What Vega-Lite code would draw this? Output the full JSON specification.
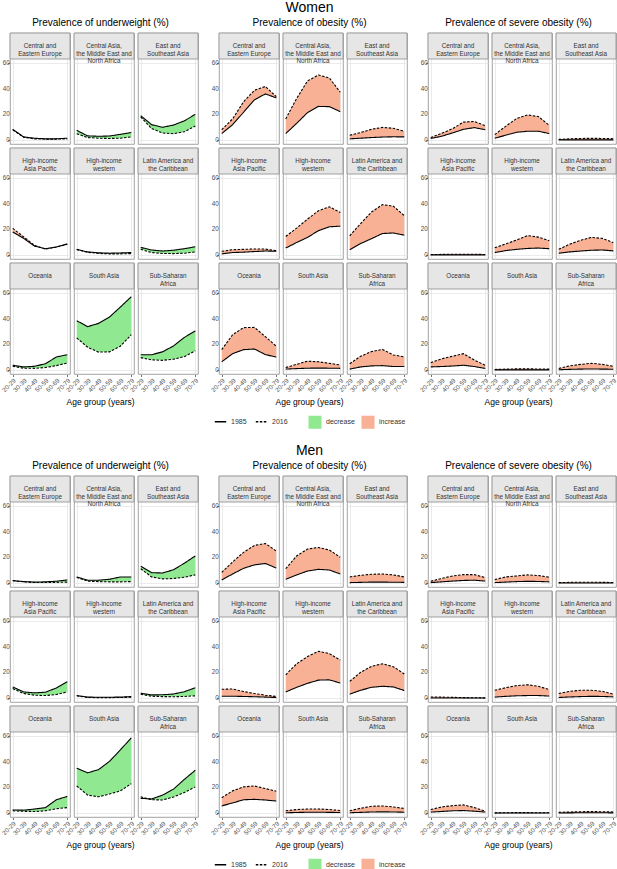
{
  "$schema": "https://vega.github.io/schema/vega-lite/v6.json",
  "padding": {"left": 0, "top": 1, "right": 0, "bottom": 0},
  "datasets": {
    "regions": [
      {"region": "CEE", "label": "Central and\nEastern Europe"},
      {"region": "CAM", "label": "Central Asia,\nthe Middle East and\nNorth Africa"},
      {"region": "ESA", "label": "East and\nSoutheast Asia"},
      {"region": "HAP", "label": "High-income\nAsia Pacific"},
      {"region": "HIW", "label": "High-income\nwestern"},
      {"region": "LAC", "label": "Latin America and\nthe Caribbean"},
      {"region": "OCE", "label": "Oceania"},
      {"region": "SAS", "label": "South Asia"},
      {"region": "SSA", "label": "Sub-Saharan\nAfrica"}
    ],
    "d": [
      {"sex":"W","measure":"uw","region":"CEE","age":20,"1985":8.4,"2016":8.0},
      {"sex":"W","measure":"uw","region":"CEE","age":30,"1985":2.5,"2016":2.3},
      {"sex":"W","measure":"uw","region":"CEE","age":40,"1985":1.5,"2016":1.0},
      {"sex":"W","measure":"uw","region":"CEE","age":50,"1985":1.0,"2016":0.8},
      {"sex":"W","measure":"uw","region":"CEE","age":60,"1985":1.0,"2016":0.8},
      {"sex":"W","measure":"uw","region":"CEE","age":70,"1985":1.5,"2016":1.0},
      {"sex":"W","measure":"uw","region":"CAM","age":20,"1985":7.6,"2016":5.0},
      {"sex":"W","measure":"uw","region":"CAM","age":30,"1985":3.3,"2016":2.0},
      {"sex":"W","measure":"uw","region":"CAM","age":40,"1985":3.0,"2016":1.5},
      {"sex":"W","measure":"uw","region":"CAM","age":50,"1985":3.2,"2016":1.3},
      {"sex":"W","measure":"uw","region":"CAM","age":60,"1985":4.5,"2016":1.5},
      {"sex":"W","measure":"uw","region":"CAM","age":70,"1985":5.9,"2016":2.5},
      {"sex":"W","measure":"uw","region":"ESA","age":20,"1985":19.0,"2016":18.0},
      {"sex":"W","measure":"uw","region":"ESA","age":30,"1985":12.0,"2016":9.0},
      {"sex":"W","measure":"uw","region":"ESA","age":40,"1985":10.0,"2016":5.5},
      {"sex":"W","measure":"uw","region":"ESA","age":50,"1985":11.7,"2016":5.0},
      {"sex":"W","measure":"uw","region":"ESA","age":60,"1985":15.0,"2016":6.5},
      {"sex":"W","measure":"uw","region":"ESA","age":70,"1985":20.0,"2016":11.0},
      {"sex":"W","measure":"uw","region":"HAP","age":20,"1985":18.0,"2016":20.8},
      {"sex":"W","measure":"uw","region":"HAP","age":30,"1985":13.0,"2016":14.2},
      {"sex":"W","measure":"uw","region":"HAP","age":40,"1985":7.0,"2016":7.6},
      {"sex":"W","measure":"uw","region":"HAP","age":50,"1985":5.0,"2016":4.7},
      {"sex":"W","measure":"uw","region":"HAP","age":60,"1985":6.3,"2016":6.3},
      {"sex":"W","measure":"uw","region":"HAP","age":70,"1985":8.7,"2016":8.4},
      {"sex":"W","measure":"uw","region":"HIW","age":20,"1985":4.5,"2016":4.3},
      {"sex":"W","measure":"uw","region":"HIW","age":30,"1985":2.5,"2016":2.2},
      {"sex":"W","measure":"uw","region":"HIW","age":40,"1985":1.8,"2016":1.3},
      {"sex":"W","measure":"uw","region":"HIW","age":50,"1985":1.5,"2016":1.0},
      {"sex":"W","measure":"uw","region":"HIW","age":60,"1985":1.7,"2016":1.0},
      {"sex":"W","measure":"uw","region":"HIW","age":70,"1985":2.0,"2016":1.2},
      {"sex":"W","measure":"uw","region":"LAC","age":20,"1985":6.0,"2016":4.5},
      {"sex":"W","measure":"uw","region":"LAC","age":30,"1985":4.0,"2016":2.0},
      {"sex":"W","measure":"uw","region":"LAC","age":40,"1985":3.2,"2016":1.3},
      {"sex":"W","measure":"uw","region":"LAC","age":50,"1985":3.8,"2016":1.2},
      {"sex":"W","measure":"uw","region":"LAC","age":60,"1985":5.0,"2016":1.5},
      {"sex":"W","measure":"uw","region":"LAC","age":70,"1985":6.5,"2016":2.5},
      {"sex":"W","measure":"uw","region":"OCE","age":20,"1985":3.8,"2016":3.0},
      {"sex":"W","measure":"uw","region":"OCE","age":30,"1985":2.5,"2016":1.5},
      {"sex":"W","measure":"uw","region":"OCE","age":40,"1985":3.0,"2016":1.4},
      {"sex":"W","measure":"uw","region":"OCE","age":50,"1985":5.0,"2016":2.0},
      {"sex":"W","measure":"uw","region":"OCE","age":60,"1985":10.2,"2016":3.5},
      {"sex":"W","measure":"uw","region":"OCE","age":70,"1985":12.0,"2016":5.5},
      {"sex":"W","measure":"uw","region":"SAS","age":20,"1985":38.4,"2016":25.0},
      {"sex":"W","measure":"uw","region":"SAS","age":30,"1985":33.8,"2016":17.8},
      {"sex":"W","measure":"uw","region":"SAS","age":40,"1985":36.3,"2016":14.0},
      {"sex":"W","measure":"uw","region":"SAS","age":50,"1985":41.2,"2016":14.2},
      {"sex":"W","measure":"uw","region":"SAS","age":60,"1985":49.0,"2016":18.6},
      {"sex":"W","measure":"uw","region":"SAS","age":70,"1985":57.0,"2016":27.5},
      {"sex":"W","measure":"uw","region":"SSA","age":20,"1985":12.0,"2016":9.7},
      {"sex":"W","measure":"uw","region":"SSA","age":30,"1985":12.0,"2016":8.0},
      {"sex":"W","measure":"uw","region":"SSA","age":40,"1985":14.2,"2016":7.6},
      {"sex":"W","measure":"uw","region":"SSA","age":50,"1985":18.8,"2016":8.5},
      {"sex":"W","measure":"uw","region":"SSA","age":60,"1985":25.4,"2016":10.5},
      {"sex":"W","measure":"uw","region":"SSA","age":70,"1985":30.5,"2016":15.0},

      {"sex":"W","measure":"ob","region":"CEE","age":20,"1985":5.1,"2016":8.1},
      {"sex":"W","measure":"ob","region":"CEE","age":30,"1985":12.0,"2016":16.5},
      {"sex":"W","measure":"ob","region":"CEE","age":40,"1985":21.6,"2016":29.8},
      {"sex":"W","measure":"ob","region":"CEE","age":50,"1985":31.3,"2016":38.7},
      {"sex":"W","measure":"ob","region":"CEE","age":60,"1985":35.9,"2016":41.7},
      {"sex":"W","measure":"ob","region":"CEE","age":70,"1985":32.8,"2016":33.8},
      {"sex":"W","measure":"ob","region":"CAM","age":20,"1985":5.1,"2016":16.5},
      {"sex":"W","measure":"ob","region":"CAM","age":30,"1985":13.0,"2016":32.3},
      {"sex":"W","measure":"ob","region":"CAM","age":40,"1985":21.4,"2016":46.0},
      {"sex":"W","measure":"ob","region":"CAM","age":50,"1985":26.2,"2016":50.6},
      {"sex":"W","measure":"ob","region":"CAM","age":60,"1985":26.0,"2016":48.3},
      {"sex":"W","measure":"ob","region":"CAM","age":70,"1985":22.1,"2016":37.2},
      {"sex":"W","measure":"ob","region":"ESA","age":20,"1985":1.0,"2016":3.8},
      {"sex":"W","measure":"ob","region":"ESA","age":30,"1985":1.5,"2016":5.9},
      {"sex":"W","measure":"ob","region":"ESA","age":40,"1985":2.0,"2016":8.4},
      {"sex":"W","measure":"ob","region":"ESA","age":50,"1985":2.4,"2016":9.9},
      {"sex":"W","measure":"ob","region":"ESA","age":60,"1985":2.6,"2016":9.2},
      {"sex":"W","measure":"ob","region":"ESA","age":70,"1985":2.5,"2016":6.9},
      {"sex":"W","measure":"ob","region":"HAP","age":20,"1985":1.0,"2016":3.0},
      {"sex":"W","measure":"ob","region":"HAP","age":30,"1985":2.0,"2016":4.2},
      {"sex":"W","measure":"ob","region":"HAP","age":40,"1985":2.3,"2016":4.5},
      {"sex":"W","measure":"ob","region":"HAP","age":50,"1985":2.8,"2016":4.8},
      {"sex":"W","measure":"ob","region":"HAP","age":60,"1985":3.2,"2016":4.7},
      {"sex":"W","measure":"ob","region":"HAP","age":70,"1985":3.0,"2016":3.5},
      {"sex":"W","measure":"ob","region":"HIW","age":20,"1985":5.5,"2016":14.5},
      {"sex":"W","measure":"ob","region":"HIW","age":30,"1985":9.8,"2016":21.0},
      {"sex":"W","measure":"ob","region":"HIW","age":40,"1985":13.8,"2016":28.0},
      {"sex":"W","measure":"ob","region":"HIW","age":50,"1985":19.0,"2016":34.5},
      {"sex":"W","measure":"ob","region":"HIW","age":60,"1985":22.0,"2016":37.5},
      {"sex":"W","measure":"ob","region":"HIW","age":70,"1985":22.5,"2016":33.2},
      {"sex":"W","measure":"ob","region":"LAC","age":20,"1985":4.2,"2016":15.0},
      {"sex":"W","measure":"ob","region":"LAC","age":30,"1985":9.0,"2016":24.5},
      {"sex":"W","measure":"ob","region":"LAC","age":40,"1985":12.8,"2016":33.5},
      {"sex":"W","measure":"ob","region":"LAC","age":50,"1985":16.8,"2016":39.2},
      {"sex":"W","measure":"ob","region":"LAC","age":60,"1985":17.2,"2016":38.0},
      {"sex":"W","measure":"ob","region":"LAC","age":70,"1985":15.5,"2016":30.7},
      {"sex":"W","measure":"ob","region":"OCE","age":20,"1985":6.5,"2016":15.9},
      {"sex":"W","measure":"ob","region":"OCE","age":30,"1985":12.8,"2016":27.5},
      {"sex":"W","measure":"ob","region":"OCE","age":40,"1985":15.9,"2016":33.0},
      {"sex":"W","measure":"ob","region":"OCE","age":50,"1985":16.4,"2016":33.2},
      {"sex":"W","measure":"ob","region":"OCE","age":60,"1985":12.1,"2016":26.0},
      {"sex":"W","measure":"ob","region":"OCE","age":70,"1985":10.1,"2016":18.6},
      {"sex":"W","measure":"ob","region":"SAS","age":20,"1985":0.8,"2016":2.0},
      {"sex":"W","measure":"ob","region":"SAS","age":30,"1985":1.2,"2016":4.5},
      {"sex":"W","measure":"ob","region":"SAS","age":40,"1985":1.5,"2016":7.0},
      {"sex":"W","measure":"ob","region":"SAS","age":50,"1985":1.6,"2016":6.5},
      {"sex":"W","measure":"ob","region":"SAS","age":60,"1985":1.5,"2016":5.3},
      {"sex":"W","measure":"ob","region":"SAS","age":70,"1985":1.4,"2016":4.0},
      {"sex":"W","measure":"ob","region":"SSA","age":20,"1985":0.8,"2016":5.0},
      {"sex":"W","measure":"ob","region":"SSA","age":30,"1985":2.5,"2016":10.8},
      {"sex":"W","measure":"ob","region":"SSA","age":40,"1985":3.3,"2016":14.4},
      {"sex":"W","measure":"ob","region":"SSA","age":50,"1985":3.5,"2016":16.1},
      {"sex":"W","measure":"ob","region":"SSA","age":60,"1985":2.8,"2016":11.8},
      {"sex":"W","measure":"ob","region":"SSA","age":70,"1985":2.8,"2016":10.3},

      {"sex":"W","measure":"so","region":"CEE","age":20,"1985":1.3,"2016":2.0},
      {"sex":"W","measure":"so","region":"CEE","age":30,"1985":3.0,"2016":5.3},
      {"sex":"W","measure":"so","region":"CEE","age":40,"1985":5.6,"2016":8.9},
      {"sex":"W","measure":"so","region":"CEE","age":50,"1985":8.4,"2016":14.0},
      {"sex":"W","measure":"so","region":"CEE","age":60,"1985":9.7,"2016":14.5},
      {"sex":"W","measure":"so","region":"CEE","age":70,"1985":8.1,"2016":11.2},
      {"sex":"W","measure":"so","region":"CAM","age":20,"1985":1.5,"2016":4.3},
      {"sex":"W","measure":"so","region":"CAM","age":30,"1985":3.8,"2016":10.7},
      {"sex":"W","measure":"so","region":"CAM","age":40,"1985":6.1,"2016":16.8},
      {"sex":"W","measure":"so","region":"CAM","age":50,"1985":6.9,"2016":19.6},
      {"sex":"W","measure":"so","region":"CAM","age":60,"1985":6.9,"2016":18.3},
      {"sex":"W","measure":"so","region":"CAM","age":70,"1985":5.1,"2016":11.5},
      {"sex":"W","measure":"so","region":"ESA","age":20,"1985":0.2,"2016":0.6},
      {"sex":"W","measure":"so","region":"ESA","age":30,"1985":0.2,"2016":1.0},
      {"sex":"W","measure":"so","region":"ESA","age":40,"1985":0.2,"2016":1.3},
      {"sex":"W","measure":"so","region":"ESA","age":50,"1985":0.2,"2016":1.4},
      {"sex":"W","measure":"so","region":"ESA","age":60,"1985":0.2,"2016":1.3},
      {"sex":"W","measure":"so","region":"ESA","age":70,"1985":0.2,"2016":1.1},
      {"sex":"W","measure":"so","region":"HAP","age":20,"1985":0.2,"2016":0.4},
      {"sex":"W","measure":"so","region":"HAP","age":30,"1985":0.2,"2016":0.6},
      {"sex":"W","measure":"so","region":"HAP","age":40,"1985":0.2,"2016":0.7},
      {"sex":"W","measure":"so","region":"HAP","age":50,"1985":0.2,"2016":0.7},
      {"sex":"W","measure":"so","region":"HAP","age":60,"1985":0.2,"2016":0.7},
      {"sex":"W","measure":"so","region":"HAP","age":70,"1985":0.2,"2016":0.5},
      {"sex":"W","measure":"so","region":"HIW","age":20,"1985":2.0,"2016":5.7},
      {"sex":"W","measure":"so","region":"HIW","age":30,"1985":3.5,"2016":8.7},
      {"sex":"W","measure":"so","region":"HIW","age":40,"1985":4.5,"2016":11.7},
      {"sex":"W","measure":"so","region":"HIW","age":50,"1985":5.2,"2016":15.2},
      {"sex":"W","measure":"so","region":"HIW","age":60,"1985":5.5,"2016":14.0},
      {"sex":"W","measure":"so","region":"HIW","age":70,"1985":5.0,"2016":11.2},
      {"sex":"W","measure":"so","region":"LAC","age":20,"1985":1.5,"2016":4.5},
      {"sex":"W","measure":"so","region":"LAC","age":30,"1985":2.5,"2016":8.5},
      {"sex":"W","measure":"so","region":"LAC","age":40,"1985":3.2,"2016":11.5},
      {"sex":"W","measure":"so","region":"LAC","age":50,"1985":3.8,"2016":13.8},
      {"sex":"W","measure":"so","region":"LAC","age":60,"1985":4.0,"2016":13.0},
      {"sex":"W","measure":"so","region":"LAC","age":70,"1985":3.3,"2016":9.7},
      {"sex":"W","measure":"so","region":"OCE","age":20,"1985":2.5,"2016":5.8},
      {"sex":"W","measure":"so","region":"OCE","age":30,"1985":2.8,"2016":8.8},
      {"sex":"W","measure":"so","region":"OCE","age":40,"1985":3.2,"2016":10.8},
      {"sex":"W","measure":"so","region":"OCE","age":50,"1985":3.8,"2016":12.8},
      {"sex":"W","measure":"so","region":"OCE","age":60,"1985":2.8,"2016":7.8},
      {"sex":"W","measure":"so","region":"OCE","age":70,"1985":1.3,"2016":3.8},
      {"sex":"W","measure":"so","region":"SAS","age":20,"1985":0.2,"2016":0.5},
      {"sex":"W","measure":"so","region":"SAS","age":30,"1985":0.2,"2016":0.8},
      {"sex":"W","measure":"so","region":"SAS","age":40,"1985":0.2,"2016":1.0},
      {"sex":"W","measure":"so","region":"SAS","age":50,"1985":0.2,"2016":1.0},
      {"sex":"W","measure":"so","region":"SAS","age":60,"1985":0.2,"2016":0.9},
      {"sex":"W","measure":"so","region":"SAS","age":70,"1985":0.2,"2016":0.8},
      {"sex":"W","measure":"so","region":"SSA","age":20,"1985":0.3,"2016":1.3},
      {"sex":"W","measure":"so","region":"SSA","age":30,"1985":0.6,"2016":3.3},
      {"sex":"W","measure":"so","region":"SSA","age":40,"1985":0.8,"2016":4.5},
      {"sex":"W","measure":"so","region":"SSA","age":50,"1985":0.9,"2016":5.3},
      {"sex":"W","measure":"so","region":"SSA","age":60,"1985":0.8,"2016":4.5},
      {"sex":"W","measure":"so","region":"SSA","age":70,"1985":0.7,"2016":3.0},

      {"sex":"M","measure":"uw","region":"CEE","age":20,"1985":2.0,"2016":1.8},
      {"sex":"M","measure":"uw","region":"CEE","age":30,"1985":1.2,"2016":1.0},
      {"sex":"M","measure":"uw","region":"CEE","age":40,"1985":0.8,"2016":0.5},
      {"sex":"M","measure":"uw","region":"CEE","age":50,"1985":1.0,"2016":0.5},
      {"sex":"M","measure":"uw","region":"CEE","age":60,"1985":1.5,"2016":0.6},
      {"sex":"M","measure":"uw","region":"CEE","age":70,"1985":2.5,"2016":0.8},
      {"sex":"M","measure":"uw","region":"CAM","age":20,"1985":4.8,"2016":4.5},
      {"sex":"M","measure":"uw","region":"CAM","age":30,"1985":2.3,"2016":1.5},
      {"sex":"M","measure":"uw","region":"CAM","age":40,"1985":2.3,"2016":1.2},
      {"sex":"M","measure":"uw","region":"CAM","age":50,"1985":3.0,"2016":1.0},
      {"sex":"M","measure":"uw","region":"CAM","age":60,"1985":4.8,"2016":1.0},
      {"sex":"M","measure":"uw","region":"CAM","age":70,"1985":4.8,"2016":1.2},
      {"sex":"M","measure":"uw","region":"ESA","age":20,"1985":13.2,"2016":11.2},
      {"sex":"M","measure":"uw","region":"ESA","age":30,"1985":8.1,"2016":4.8},
      {"sex":"M","measure":"uw","region":"ESA","age":40,"1985":7.9,"2016":3.3},
      {"sex":"M","measure":"uw","region":"ESA","age":50,"1985":10.4,"2016":3.6},
      {"sex":"M","measure":"uw","region":"ESA","age":60,"1985":15.5,"2016":4.6},
      {"sex":"M","measure":"uw","region":"ESA","age":70,"1985":21.1,"2016":6.4},
      {"sex":"M","measure":"uw","region":"HAP","age":20,"1985":8.7,"2016":7.4},
      {"sex":"M","measure":"uw","region":"HAP","age":30,"1985":4.8,"2016":3.6},
      {"sex":"M","measure":"uw","region":"HAP","age":40,"1985":4.1,"2016":2.3},
      {"sex":"M","measure":"uw","region":"HAP","age":50,"1985":4.6,"2016":2.0},
      {"sex":"M","measure":"uw","region":"HAP","age":60,"1985":7.9,"2016":2.8},
      {"sex":"M","measure":"uw","region":"HAP","age":70,"1985":12.7,"2016":4.8},
      {"sex":"M","measure":"uw","region":"HIW","age":20,"1985":2.0,"2016":1.8},
      {"sex":"M","measure":"uw","region":"HIW","age":30,"1985":0.8,"2016":0.5},
      {"sex":"M","measure":"uw","region":"HIW","age":40,"1985":0.7,"2016":0.4},
      {"sex":"M","measure":"uw","region":"HIW","age":50,"1985":0.7,"2016":0.4},
      {"sex":"M","measure":"uw","region":"HIW","age":60,"1985":0.8,"2016":0.5},
      {"sex":"M","measure":"uw","region":"HIW","age":70,"1985":1.2,"2016":0.7},
      {"sex":"M","measure":"uw","region":"LAC","age":20,"1985":3.8,"2016":3.0},
      {"sex":"M","measure":"uw","region":"LAC","age":30,"1985":2.5,"2016":1.5},
      {"sex":"M","measure":"uw","region":"LAC","age":40,"1985":2.6,"2016":1.2},
      {"sex":"M","measure":"uw","region":"LAC","age":50,"1985":3.2,"2016":1.1},
      {"sex":"M","measure":"uw","region":"LAC","age":60,"1985":5.0,"2016":1.3},
      {"sex":"M","measure":"uw","region":"LAC","age":70,"1985":8.1,"2016":1.8},
      {"sex":"M","measure":"uw","region":"OCE","age":20,"1985":2.5,"2016":1.8},
      {"sex":"M","measure":"uw","region":"OCE","age":30,"1985":2.3,"2016":1.4},
      {"sex":"M","measure":"uw","region":"OCE","age":40,"1985":3.2,"2016":1.3},
      {"sex":"M","measure":"uw","region":"OCE","age":50,"1985":4.3,"2016":1.8},
      {"sex":"M","measure":"uw","region":"OCE","age":60,"1985":10.4,"2016":3.4},
      {"sex":"M","measure":"uw","region":"OCE","age":70,"1985":13.0,"2016":4.3},
      {"sex":"M","measure":"uw","region":"SAS","age":20,"1985":34.9,"2016":21.1},
      {"sex":"M","measure":"uw","region":"SAS","age":30,"1985":31.3,"2016":14.0},
      {"sex":"M","measure":"uw","region":"SAS","age":40,"1985":33.8,"2016":12.7},
      {"sex":"M","measure":"uw","region":"SAS","age":50,"1985":40.2,"2016":14.8},
      {"sex":"M","measure":"uw","region":"SAS","age":60,"1985":49.1,"2016":17.3},
      {"sex":"M","measure":"uw","region":"SAS","age":70,"1985":58.5,"2016":22.9},
      {"sex":"M","measure":"uw","region":"SSA","age":20,"1985":11.5,"2016":12.7},
      {"sex":"M","measure":"uw","region":"SSA","age":30,"1985":11.0,"2016":10.4},
      {"sex":"M","measure":"uw","region":"SSA","age":40,"1985":14.0,"2016":10.2},
      {"sex":"M","measure":"uw","region":"SSA","age":50,"1985":18.6,"2016":12.5},
      {"sex":"M","measure":"uw","region":"SSA","age":60,"1985":26.2,"2016":16.0},
      {"sex":"M","measure":"uw","region":"SSA","age":70,"1985":33.3,"2016":20.4},

      {"sex":"M","measure":"ob","region":"CEE","age":20,"1985":2.5,"2016":8.4},
      {"sex":"M","measure":"ob","region":"CEE","age":30,"1985":7.1,"2016":16.5},
      {"sex":"M","measure":"ob","region":"CEE","age":40,"1985":11.5,"2016":23.9},
      {"sex":"M","measure":"ob","region":"CEE","age":50,"1985":14.2,"2016":29.3},
      {"sex":"M","measure":"ob","region":"CEE","age":60,"1985":15.3,"2016":30.8},
      {"sex":"M","measure":"ob","region":"CEE","age":70,"1985":11.7,"2016":24.9},
      {"sex":"M","measure":"ob","region":"CAM","age":20,"1985":3.0,"2016":11.2},
      {"sex":"M","measure":"ob","region":"CAM","age":30,"1985":6.4,"2016":21.1},
      {"sex":"M","measure":"ob","region":"CAM","age":40,"1985":9.4,"2016":26.5},
      {"sex":"M","measure":"ob","region":"CAM","age":50,"1985":10.7,"2016":27.7},
      {"sex":"M","measure":"ob","region":"CAM","age":60,"1985":10.2,"2016":25.7},
      {"sex":"M","measure":"ob","region":"CAM","age":70,"1985":7.1,"2016":20.1},
      {"sex":"M","measure":"ob","region":"ESA","age":20,"1985":0.4,"2016":4.8},
      {"sex":"M","measure":"ob","region":"ESA","age":30,"1985":0.6,"2016":6.1},
      {"sex":"M","measure":"ob","region":"ESA","age":40,"1985":0.8,"2016":6.9},
      {"sex":"M","measure":"ob","region":"ESA","age":50,"1985":0.8,"2016":7.1},
      {"sex":"M","measure":"ob","region":"ESA","age":60,"1985":0.7,"2016":6.4},
      {"sex":"M","measure":"ob","region":"ESA","age":70,"1985":0.6,"2016":4.8},
      {"sex":"M","measure":"ob","region":"HAP","age":20,"1985":1.5,"2016":6.9},
      {"sex":"M","measure":"ob","region":"HAP","age":30,"1985":1.5,"2016":7.1},
      {"sex":"M","measure":"ob","region":"HAP","age":40,"1985":1.3,"2016":5.1},
      {"sex":"M","measure":"ob","region":"HAP","age":50,"1985":1.1,"2016":3.6},
      {"sex":"M","measure":"ob","region":"HAP","age":60,"1985":0.8,"2016":2.3},
      {"sex":"M","measure":"ob","region":"HAP","age":70,"1985":0.5,"2016":1.3},
      {"sex":"M","measure":"ob","region":"HIW","age":20,"1985":4.8,"2016":18.1},
      {"sex":"M","measure":"ob","region":"HIW","age":30,"1985":8.4,"2016":26.7},
      {"sex":"M","measure":"ob","region":"HIW","age":40,"1985":11.5,"2016":32.3},
      {"sex":"M","measure":"ob","region":"HIW","age":50,"1985":14.0,"2016":36.4},
      {"sex":"M","measure":"ob","region":"HIW","age":60,"1985":14.2,"2016":34.6},
      {"sex":"M","measure":"ob","region":"HIW","age":70,"1985":11.7,"2016":29.5},
      {"sex":"M","measure":"ob","region":"LAC","age":20,"1985":3.1,"2016":13.0},
      {"sex":"M","measure":"ob","region":"LAC","age":30,"1985":6.1,"2016":20.1},
      {"sex":"M","measure":"ob","region":"LAC","age":40,"1985":8.4,"2016":24.7},
      {"sex":"M","measure":"ob","region":"LAC","age":50,"1985":9.2,"2016":26.7},
      {"sex":"M","measure":"ob","region":"LAC","age":60,"1985":8.7,"2016":24.4},
      {"sex":"M","measure":"ob","region":"LAC","age":70,"1985":5.9,"2016":18.8},
      {"sex":"M","measure":"ob","region":"OCE","age":20,"1985":5.6,"2016":12.0},
      {"sex":"M","measure":"ob","region":"OCE","age":30,"1985":7.9,"2016":17.3},
      {"sex":"M","measure":"ob","region":"OCE","age":40,"1985":10.4,"2016":20.4},
      {"sex":"M","measure":"ob","region":"OCE","age":50,"1985":10.7,"2016":21.1},
      {"sex":"M","measure":"ob","region":"OCE","age":60,"1985":10.2,"2016":19.1},
      {"sex":"M","measure":"ob","region":"OCE","age":70,"1985":9.4,"2016":17.0},
      {"sex":"M","measure":"ob","region":"SAS","age":20,"1985":0.3,"2016":1.8},
      {"sex":"M","measure":"ob","region":"SAS","age":30,"1985":0.5,"2016":2.8},
      {"sex":"M","measure":"ob","region":"SAS","age":40,"1985":0.7,"2016":3.2},
      {"sex":"M","measure":"ob","region":"SAS","age":50,"1985":0.7,"2016":3.2},
      {"sex":"M","measure":"ob","region":"SAS","age":60,"1985":0.6,"2016":2.8},
      {"sex":"M","measure":"ob","region":"SAS","age":70,"1985":0.5,"2016":2.0},
      {"sex":"M","measure":"ob","region":"SSA","age":20,"1985":0.3,"2016":1.8},
      {"sex":"M","measure":"ob","region":"SSA","age":30,"1985":0.6,"2016":3.8},
      {"sex":"M","measure":"ob","region":"SSA","age":40,"1985":0.9,"2016":5.3},
      {"sex":"M","measure":"ob","region":"SSA","age":50,"1985":1.0,"2016":5.6},
      {"sex":"M","measure":"ob","region":"SSA","age":60,"1985":0.9,"2016":4.8},
      {"sex":"M","measure":"ob","region":"SSA","age":70,"1985":0.7,"2016":3.6},

      {"sex":"M","measure":"so","region":"CEE","age":20,"1985":0.4,"2016":1.5},
      {"sex":"M","measure":"so","region":"CEE","age":30,"1985":1.0,"2016":3.6},
      {"sex":"M","measure":"so","region":"CEE","age":40,"1985":1.6,"2016":5.6},
      {"sex":"M","measure":"so","region":"CEE","age":50,"1985":2.1,"2016":6.6},
      {"sex":"M","measure":"so","region":"CEE","age":60,"1985":2.3,"2016":6.6},
      {"sex":"M","measure":"so","region":"CEE","age":70,"1985":1.6,"2016":4.3},
      {"sex":"M","measure":"so","region":"CAM","age":20,"1985":0.4,"2016":2.8},
      {"sex":"M","measure":"so","region":"CAM","age":30,"1985":0.8,"2016":4.8},
      {"sex":"M","measure":"so","region":"CAM","age":40,"1985":1.2,"2016":5.6},
      {"sex":"M","measure":"so","region":"CAM","age":50,"1985":1.4,"2016":6.4},
      {"sex":"M","measure":"so","region":"CAM","age":60,"1985":1.3,"2016":5.9},
      {"sex":"M","measure":"so","region":"CAM","age":70,"1985":1.0,"2016":4.6},
      {"sex":"M","measure":"so","region":"ESA","age":20,"1985":0.1,"2016":0.4},
      {"sex":"M","measure":"so","region":"ESA","age":30,"1985":0.1,"2016":0.6},
      {"sex":"M","measure":"so","region":"ESA","age":40,"1985":0.1,"2016":0.7},
      {"sex":"M","measure":"so","region":"ESA","age":50,"1985":0.1,"2016":0.7},
      {"sex":"M","measure":"so","region":"ESA","age":60,"1985":0.1,"2016":0.6},
      {"sex":"M","measure":"so","region":"ESA","age":70,"1985":0.1,"2016":0.5},
      {"sex":"M","measure":"so","region":"HAP","age":20,"1985":0.1,"2016":0.9},
      {"sex":"M","measure":"so","region":"HAP","age":30,"1985":0.1,"2016":0.8},
      {"sex":"M","measure":"so","region":"HAP","age":40,"1985":0.1,"2016":0.6},
      {"sex":"M","measure":"so","region":"HAP","age":50,"1985":0.1,"2016":0.4},
      {"sex":"M","measure":"so","region":"HAP","age":60,"1985":0.1,"2016":0.3},
      {"sex":"M","measure":"so","region":"HAP","age":70,"1985":0.1,"2016":0.2},
      {"sex":"M","measure":"so","region":"HIW","age":20,"1985":0.8,"2016":6.1},
      {"sex":"M","measure":"so","region":"HIW","age":30,"1985":1.4,"2016":8.1},
      {"sex":"M","measure":"so","region":"HIW","age":40,"1985":1.8,"2016":9.7},
      {"sex":"M","measure":"so","region":"HIW","age":50,"1985":2.0,"2016":10.4},
      {"sex":"M","measure":"so","region":"HIW","age":60,"1985":2.0,"2016":9.2},
      {"sex":"M","measure":"so","region":"HIW","age":70,"1985":1.6,"2016":6.6},
      {"sex":"M","measure":"so","region":"LAC","age":20,"1985":0.5,"2016":3.6},
      {"sex":"M","measure":"so","region":"LAC","age":30,"1985":0.9,"2016":5.3},
      {"sex":"M","measure":"so","region":"LAC","age":40,"1985":1.2,"2016":6.1},
      {"sex":"M","measure":"so","region":"LAC","age":50,"1985":1.4,"2016":6.1},
      {"sex":"M","measure":"so","region":"LAC","age":60,"1985":1.3,"2016":5.3},
      {"sex":"M","measure":"so","region":"LAC","age":70,"1985":1.0,"2016":3.1},
      {"sex":"M","measure":"so","region":"OCE","age":20,"1985":0.8,"2016":2.8},
      {"sex":"M","measure":"so","region":"OCE","age":30,"1985":1.3,"2016":4.8},
      {"sex":"M","measure":"so","region":"OCE","age":40,"1985":1.8,"2016":5.8},
      {"sex":"M","measure":"so","region":"OCE","age":50,"1985":2.0,"2016":6.4},
      {"sex":"M","measure":"so","region":"OCE","age":60,"1985":1.5,"2016":4.3},
      {"sex":"M","measure":"so","region":"OCE","age":70,"1985":0.8,"2016":1.5},
      {"sex":"M","measure":"so","region":"SAS","age":20,"1985":0.05,"2016":0.2},
      {"sex":"M","measure":"so","region":"SAS","age":30,"1985":0.05,"2016":0.3},
      {"sex":"M","measure":"so","region":"SAS","age":40,"1985":0.05,"2016":0.4},
      {"sex":"M","measure":"so","region":"SAS","age":50,"1985":0.05,"2016":0.4},
      {"sex":"M","measure":"so","region":"SAS","age":60,"1985":0.05,"2016":0.3},
      {"sex":"M","measure":"so","region":"SAS","age":70,"1985":0.05,"2016":0.3},
      {"sex":"M","measure":"so","region":"SSA","age":20,"1985":0.1,"2016":0.6},
      {"sex":"M","measure":"so","region":"SSA","age":30,"1985":0.2,"2016":0.9},
      {"sex":"M","measure":"so","region":"SSA","age":40,"1985":0.3,"2016":1.1},
      {"sex":"M","measure":"so","region":"SSA","age":50,"1985":0.3,"2016":1.2},
      {"sex":"M","measure":"so","region":"SSA","age":60,"1985":0.3,"2016":1.1},
      {"sex":"M","measure":"so","region":"SSA","age":70,"1985":0.2,"2016":0.9}
    ]
  },
  "data": {"name": "d"},
  "transform": [
    {"lookup": "region", "from": {"data": {"name": "regions"}, "key": "region", "fields": ["label"]}},
    {"calculate": "datum.age + '-' + (datum.age + 9)", "as": "agelab"}
  ],
  "spacing": 15,
  "resolve": {"scale": {"color": "independent", "fill": "independent", "strokeDash": "independent"}},
  "vconcat": [
    {
      "title": {"text": "Women", "fontSize": 14, "offset": 3},
      "spacing": 8,
      "hconcat": [
        {
          "title": {"text": "Prevalence of underweight (%)", "fontSize": 10, "offset": 3},
          "vconcat": [
            {
              "title": {"text": "Age group (years)", "orient": "bottom", "fontSize": 8.5, "offset": 4},
              "transform": [{"filter": "datum.sex == 'W' && datum.measure == 'uw'"}],
              "facet": {"field": "region", "type": "nominal", "sort": ["CEE","CAM","ESA","HAP","HIW","LAC","OCE","SAS","SSA"], "title": null, "header": {"title": null, "labels": false, "labelExpr": "''", "labelFontSize": 1, "labelPadding": 0}},
              "columns": 3,
              "spacing": 4,
              "bounds": "flush",
              "spec": {
                "width": 60,
                "height": 111,
                "layer": [
                  {"transform": [{"filter": "false"}], "mark": {"type": "line", "strokeWidth": 1.1}, "encoding": {"x": {"field": "age", "type": "quantitative", "title": null}, "y": {"field": "value", "type": "quantitative", "title": null}, "color": {"field": "year", "type": "nominal", "scale": {"domain": ["1985", "2016"], "range": ["black", "black"]}, "legend": {"orient": "bottom", "direction": "horizontal", "title": null, "symbolType": "stroke", "symbolSize": 130, "symbolStrokeWidth": 1.3, "labelFontSize": 7, "columnPadding": 6, "offset": 8}}, "strokeDash": {"field": "year", "type": "nominal", "scale": {"domain": ["1985", "2016"], "range": [[1, 0], [2.5, 1.5]]}, "legend": {"orient": "bottom", "direction": "horizontal", "title": null, "symbolType": "stroke", "symbolSize": 130, "symbolStrokeWidth": 1.3, "labelFontSize": 7, "columnPadding": 6, "offset": 8}}}},
                  {"transform": [{"calculate": "min(datum['1985'], datum['2016'])", "as": "lo"}], "mark": {"type": "area", "opacity": 1}, "encoding": {"x": {"field": "age", "type": "quantitative", "title": null, "scale": {"domain": [17.5, 72.5], "nice": false, "zero": false}, "axis": {"values": [20,25,30,35,40,45,50,55,60,65,70], "labels": false, "gridWidth": {"condition": {"test": "datum.value % 10 != 0", "value": 0.35}, "value": 0.7}, "tickOpacity": {"condition": {"test": "datum.value % 10 != 0", "value": 0}, "value": 1}}}, "y": {"field": "1985", "type": "quantitative", "title": null, "scale": {"domain": [-3, 83.2], "nice": false, "zero": false}, "axis": {"values": [0,10,20,30,40,50,60], "labels": false, "gridWidth": {"condition": {"test": "datum.value % 20 != 0", "value": 0.35}, "value": 0.7}, "tickOpacity": {"condition": {"test": "datum.value % 20 != 0", "value": 0}, "value": 1}}}, "y2": {"field": "lo"}, "fill": {"datum": "decrease", "type": "nominal", "scale": {"domain": ["decrease", "increase"], "range": ["#90E990", "#F8B195"]}, "legend": {"orient": "bottom", "direction": "horizontal", "title": null, "symbolType": "square", "symbolSize": 170, "symbolStrokeWidth": 0, "labelFontSize": 7, "columnPadding": 6, "offset": 8}}}},
                  {"transform": [{"calculate": "min(datum['1985'], datum['2016'])", "as": "lo"}], "mark": {"type": "area", "opacity": 1}, "encoding": {"x": {"field": "age", "type": "quantitative", "title": null}, "y": {"field": "2016", "type": "quantitative", "title": null}, "y2": {"field": "lo"}, "fill": {"datum": "increase", "type": "nominal"}}},
                  {"transform": [{"fold": ["1985", "2016"], "as": ["year", "value"]}], "mark": {"type": "line", "strokeWidth": 1.1}, "encoding": {"x": {"field": "age", "type": "quantitative", "title": null}, "y": {"field": "value", "type": "quantitative", "title": null}, "color": {"field": "year", "type": "nominal"}, "strokeDash": {"field": "year", "type": "nominal"}}},
                  {"transform": [{"aggregate": [{"op": "count", "as": "n"}], "groupby": ["region"]}], "mark": {"type": "rect", "fill": "#E6E6E6", "stroke": "#8C8C8C", "strokeWidth": 0.8}, "encoding": {"y": {"datum": 63, "type": "quantitative", "title": null}, "y2": {"datum": 83.2}}},
                  {"transform": [{"aggregate": [{"op": "count", "as": "n"}], "groupby": ["region", "label"]}], "mark": {"type": "text", "fontSize": 6.3, "color": "#333333", "lineBreak": "\n", "lineHeight": 7.5, "align": "center", "baseline": "middle"}, "encoding": {"x": {"datum": 45, "type": "quantitative", "title": null}, "y": {"datum": 73.1, "type": "quantitative", "title": null}, "text": {"field": "label", "type": "nominal"}}},
                  {"transform": [{"filter": "indexof(['OCE','SAS','SSA'], datum.region) >= 0"}], "mark": {"type": "text", "angle": 315, "align": "right", "baseline": "top", "fontSize": 6.3, "color": "#4D4D4D"}, "encoding": {"x": {"field": "age", "type": "quantitative", "title": null}, "y": {"datum": -5.7, "type": "quantitative", "title": null}, "text": {"field": "agelab", "type": "nominal"}}},
                  {"transform": [{"aggregate": [{"op": "count", "as": "n"}], "groupby": ["region"]}, {"filter": "indexof(['CEE','HAP','OCE'], datum.region) >= 0"}], "mark": {"type": "text", "align": "right", "baseline": "middle", "fontSize": 6.3, "color": "#4D4D4D"}, "encoding": {"x": {"datum": 17.18, "type": "quantitative", "title": null}, "y": {"datum": 0, "type": "quantitative", "title": null}, "text": {"value": "0"}}},
                  {"transform": [{"aggregate": [{"op": "count", "as": "n"}], "groupby": ["region"]}, {"filter": "indexof(['CEE','HAP','OCE'], datum.region) >= 0"}], "mark": {"type": "text", "align": "right", "baseline": "middle", "fontSize": 6.3, "color": "#4D4D4D"}, "encoding": {"x": {"datum": 17.18, "type": "quantitative", "title": null}, "y": {"datum": 20, "type": "quantitative", "title": null}, "text": {"value": "20"}}},
                  {"transform": [{"aggregate": [{"op": "count", "as": "n"}], "groupby": ["region"]}, {"filter": "indexof(['CEE','HAP','OCE'], datum.region) >= 0"}], "mark": {"type": "text", "align": "right", "baseline": "middle", "fontSize": 6.3, "color": "#4D4D4D"}, "encoding": {"x": {"datum": 17.18, "type": "quantitative", "title": null}, "y": {"datum": 40, "type": "quantitative", "title": null}, "text": {"value": "40"}}},
                  {"transform": [{"aggregate": [{"op": "count", "as": "n"}], "groupby": ["region"]}, {"filter": "indexof(['CEE','HAP','OCE'], datum.region) >= 0"}], "mark": {"type": "text", "align": "right", "baseline": "middle", "fontSize": 6.3, "color": "#4D4D4D"}, "encoding": {"x": {"datum": 17.18, "type": "quantitative", "title": null}, "y": {"datum": 60, "type": "quantitative", "title": null}, "text": {"value": "60"}}}
                ]
              }
            }
          ]
        },
        {
          "title": {"text": "Prevalence of obesity (%)", "fontSize": 10, "offset": 3},
          "vconcat": [
            {
              "title": {"text": "Age group (years)", "orient": "bottom", "fontSize": 8.5, "offset": 4},
              "transform": [{"filter": "datum.sex == 'W' && datum.measure == 'ob'"}],
              "facet": {"field": "region", "type": "nominal", "sort": ["CEE","CAM","ESA","HAP","HIW","LAC","OCE","SAS","SSA"], "title": null, "header": {"title": null, "labels": false, "labelExpr": "''", "labelFontSize": 1, "labelPadding": 0}},
              "columns": 3,
              "spacing": 4,
              "bounds": "flush",
              "spec": {
                "width": 60,
                "height": 111,
                "layer": [
                  {"transform": [{"filter": "false"}], "mark": {"type": "line", "strokeWidth": 1.1}, "encoding": {"x": {"field": "age", "type": "quantitative", "title": null}, "y": {"field": "value", "type": "quantitative", "title": null}, "color": {"field": "year", "type": "nominal", "scale": {"domain": ["1985", "2016"], "range": ["black", "black"]}, "legend": {"orient": "bottom", "direction": "horizontal", "title": null, "symbolType": "stroke", "symbolSize": 130, "symbolStrokeWidth": 1.3, "labelFontSize": 7, "columnPadding": 6, "offset": 8}}, "strokeDash": {"field": "year", "type": "nominal", "scale": {"domain": ["1985", "2016"], "range": [[1, 0], [2.5, 1.5]]}, "legend": {"orient": "bottom", "direction": "horizontal", "title": null, "symbolType": "stroke", "symbolSize": 130, "symbolStrokeWidth": 1.3, "labelFontSize": 7, "columnPadding": 6, "offset": 8}}}},
                  {"transform": [{"calculate": "min(datum['1985'], datum['2016'])", "as": "lo"}], "mark": {"type": "area", "opacity": 1}, "encoding": {"x": {"field": "age", "type": "quantitative", "title": null, "scale": {"domain": [17.5, 72.5], "nice": false, "zero": false}, "axis": {"values": [20,25,30,35,40,45,50,55,60,65,70], "labels": false, "gridWidth": {"condition": {"test": "datum.value % 10 != 0", "value": 0.35}, "value": 0.7}, "tickOpacity": {"condition": {"test": "datum.value % 10 != 0", "value": 0}, "value": 1}}}, "y": {"field": "1985", "type": "quantitative", "title": null, "scale": {"domain": [-3, 83.2], "nice": false, "zero": false}, "axis": {"values": [0,10,20,30,40,50,60], "labels": false, "gridWidth": {"condition": {"test": "datum.value % 20 != 0", "value": 0.35}, "value": 0.7}, "tickOpacity": {"condition": {"test": "datum.value % 20 != 0", "value": 0}, "value": 1}}}, "y2": {"field": "lo"}, "fill": {"datum": "decrease", "type": "nominal", "scale": {"domain": ["decrease", "increase"], "range": ["#90E990", "#F8B195"]}, "legend": {"orient": "bottom", "direction": "horizontal", "title": null, "symbolType": "square", "symbolSize": 170, "symbolStrokeWidth": 0, "labelFontSize": 7, "columnPadding": 6, "offset": 8}}}},
                  {"transform": [{"calculate": "min(datum['1985'], datum['2016'])", "as": "lo"}], "mark": {"type": "area", "opacity": 1}, "encoding": {"x": {"field": "age", "type": "quantitative", "title": null}, "y": {"field": "2016", "type": "quantitative", "title": null}, "y2": {"field": "lo"}, "fill": {"datum": "increase", "type": "nominal"}}},
                  {"transform": [{"fold": ["1985", "2016"], "as": ["year", "value"]}], "mark": {"type": "line", "strokeWidth": 1.1}, "encoding": {"x": {"field": "age", "type": "quantitative", "title": null}, "y": {"field": "value", "type": "quantitative", "title": null}, "color": {"field": "year", "type": "nominal"}, "strokeDash": {"field": "year", "type": "nominal"}}},
                  {"transform": [{"aggregate": [{"op": "count", "as": "n"}], "groupby": ["region"]}], "mark": {"type": "rect", "fill": "#E6E6E6", "stroke": "#8C8C8C", "strokeWidth": 0.8}, "encoding": {"y": {"datum": 63, "type": "quantitative", "title": null}, "y2": {"datum": 83.2}}},
                  {"transform": [{"aggregate": [{"op": "count", "as": "n"}], "groupby": ["region", "label"]}], "mark": {"type": "text", "fontSize": 6.3, "color": "#333333", "lineBreak": "\n", "lineHeight": 7.5, "align": "center", "baseline": "middle"}, "encoding": {"x": {"datum": 45, "type": "quantitative", "title": null}, "y": {"datum": 73.1, "type": "quantitative", "title": null}, "text": {"field": "label", "type": "nominal"}}},
                  {"transform": [{"filter": "indexof(['OCE','SAS','SSA'], datum.region) >= 0"}], "mark": {"type": "text", "angle": 315, "align": "right", "baseline": "top", "fontSize": 6.3, "color": "#4D4D4D"}, "encoding": {"x": {"field": "age", "type": "quantitative", "title": null}, "y": {"datum": -5.7, "type": "quantitative", "title": null}, "text": {"field": "agelab", "type": "nominal"}}},
                  {"transform": [{"aggregate": [{"op": "count", "as": "n"}], "groupby": ["region"]}, {"filter": "indexof(['CEE','HAP','OCE'], datum.region) >= 0"}], "mark": {"type": "text", "align": "right", "baseline": "middle", "fontSize": 6.3, "color": "#4D4D4D"}, "encoding": {"x": {"datum": 17.18, "type": "quantitative", "title": null}, "y": {"datum": 0, "type": "quantitative", "title": null}, "text": {"value": "0"}}},
                  {"transform": [{"aggregate": [{"op": "count", "as": "n"}], "groupby": ["region"]}, {"filter": "indexof(['CEE','HAP','OCE'], datum.region) >= 0"}], "mark": {"type": "text", "align": "right", "baseline": "middle", "fontSize": 6.3, "color": "#4D4D4D"}, "encoding": {"x": {"datum": 17.18, "type": "quantitative", "title": null}, "y": {"datum": 20, "type": "quantitative", "title": null}, "text": {"value": "20"}}},
                  {"transform": [{"aggregate": [{"op": "count", "as": "n"}], "groupby": ["region"]}, {"filter": "indexof(['CEE','HAP','OCE'], datum.region) >= 0"}], "mark": {"type": "text", "align": "right", "baseline": "middle", "fontSize": 6.3, "color": "#4D4D4D"}, "encoding": {"x": {"datum": 17.18, "type": "quantitative", "title": null}, "y": {"datum": 40, "type": "quantitative", "title": null}, "text": {"value": "40"}}},
                  {"transform": [{"aggregate": [{"op": "count", "as": "n"}], "groupby": ["region"]}, {"filter": "indexof(['CEE','HAP','OCE'], datum.region) >= 0"}], "mark": {"type": "text", "align": "right", "baseline": "middle", "fontSize": 6.3, "color": "#4D4D4D"}, "encoding": {"x": {"datum": 17.18, "type": "quantitative", "title": null}, "y": {"datum": 60, "type": "quantitative", "title": null}, "text": {"value": "60"}}}
                ]
              }
            }
          ]
        },
        {
          "title": {"text": "Prevalence of severe obesity (%)", "fontSize": 10, "offset": 3},
          "vconcat": [
            {
              "title": {"text": "Age group (years)", "orient": "bottom", "fontSize": 8.5, "offset": 4},
              "transform": [{"filter": "datum.sex == 'W' && datum.measure == 'so'"}],
              "facet": {"field": "region", "type": "nominal", "sort": ["CEE","CAM","ESA","HAP","HIW","LAC","OCE","SAS","SSA"], "title": null, "header": {"title": null, "labels": false, "labelExpr": "''", "labelFontSize": 1, "labelPadding": 0}},
              "columns": 3,
              "spacing": 4,
              "bounds": "flush",
              "spec": {
                "width": 60,
                "height": 111,
                "layer": [
                  {"transform": [{"filter": "false"}], "mark": {"type": "line", "strokeWidth": 1.1}, "encoding": {"x": {"field": "age", "type": "quantitative", "title": null}, "y": {"field": "value", "type": "quantitative", "title": null}, "color": {"field": "year", "type": "nominal", "scale": {"domain": ["1985", "2016"], "range": ["black", "black"]}, "legend": {"orient": "bottom", "direction": "horizontal", "title": null, "symbolType": "stroke", "symbolSize": 130, "symbolStrokeWidth": 1.3, "labelFontSize": 7, "columnPadding": 6, "offset": 8}}, "strokeDash": {"field": "year", "type": "nominal", "scale": {"domain": ["1985", "2016"], "range": [[1, 0], [2.5, 1.5]]}, "legend": {"orient": "bottom", "direction": "horizontal", "title": null, "symbolType": "stroke", "symbolSize": 130, "symbolStrokeWidth": 1.3, "labelFontSize": 7, "columnPadding": 6, "offset": 8}}}},
                  {"transform": [{"calculate": "min(datum['1985'], datum['2016'])", "as": "lo"}], "mark": {"type": "area", "opacity": 1}, "encoding": {"x": {"field": "age", "type": "quantitative", "title": null, "scale": {"domain": [17.5, 72.5], "nice": false, "zero": false}, "axis": {"values": [20,25,30,35,40,45,50,55,60,65,70], "labels": false, "gridWidth": {"condition": {"test": "datum.value % 10 != 0", "value": 0.35}, "value": 0.7}, "tickOpacity": {"condition": {"test": "datum.value % 10 != 0", "value": 0}, "value": 1}}}, "y": {"field": "1985", "type": "quantitative", "title": null, "scale": {"domain": [-3, 83.2], "nice": false, "zero": false}, "axis": {"values": [0,10,20,30,40,50,60], "labels": false, "gridWidth": {"condition": {"test": "datum.value % 20 != 0", "value": 0.35}, "value": 0.7}, "tickOpacity": {"condition": {"test": "datum.value % 20 != 0", "value": 0}, "value": 1}}}, "y2": {"field": "lo"}, "fill": {"datum": "decrease", "type": "nominal", "scale": {"domain": ["decrease", "increase"], "range": ["#90E990", "#F8B195"]}, "legend": {"orient": "bottom", "direction": "horizontal", "title": null, "symbolType": "square", "symbolSize": 170, "symbolStrokeWidth": 0, "labelFontSize": 7, "columnPadding": 6, "offset": 8}}}},
                  {"transform": [{"calculate": "min(datum['1985'], datum['2016'])", "as": "lo"}], "mark": {"type": "area", "opacity": 1}, "encoding": {"x": {"field": "age", "type": "quantitative", "title": null}, "y": {"field": "2016", "type": "quantitative", "title": null}, "y2": {"field": "lo"}, "fill": {"datum": "increase", "type": "nominal"}}},
                  {"transform": [{"fold": ["1985", "2016"], "as": ["year", "value"]}], "mark": {"type": "line", "strokeWidth": 1.1}, "encoding": {"x": {"field": "age", "type": "quantitative", "title": null}, "y": {"field": "value", "type": "quantitative", "title": null}, "color": {"field": "year", "type": "nominal"}, "strokeDash": {"field": "year", "type": "nominal"}}},
                  {"transform": [{"aggregate": [{"op": "count", "as": "n"}], "groupby": ["region"]}], "mark": {"type": "rect", "fill": "#E6E6E6", "stroke": "#8C8C8C", "strokeWidth": 0.8}, "encoding": {"y": {"datum": 63, "type": "quantitative", "title": null}, "y2": {"datum": 83.2}}},
                  {"transform": [{"aggregate": [{"op": "count", "as": "n"}], "groupby": ["region", "label"]}], "mark": {"type": "text", "fontSize": 6.3, "color": "#333333", "lineBreak": "\n", "lineHeight": 7.5, "align": "center", "baseline": "middle"}, "encoding": {"x": {"datum": 45, "type": "quantitative", "title": null}, "y": {"datum": 73.1, "type": "quantitative", "title": null}, "text": {"field": "label", "type": "nominal"}}},
                  {"transform": [{"filter": "indexof(['OCE','SAS','SSA'], datum.region) >= 0"}], "mark": {"type": "text", "angle": 315, "align": "right", "baseline": "top", "fontSize": 6.3, "color": "#4D4D4D"}, "encoding": {"x": {"field": "age", "type": "quantitative", "title": null}, "y": {"datum": -5.7, "type": "quantitative", "title": null}, "text": {"field": "agelab", "type": "nominal"}}},
                  {"transform": [{"aggregate": [{"op": "count", "as": "n"}], "groupby": ["region"]}, {"filter": "indexof(['CEE','HAP','OCE'], datum.region) >= 0"}], "mark": {"type": "text", "align": "right", "baseline": "middle", "fontSize": 6.3, "color": "#4D4D4D"}, "encoding": {"x": {"datum": 17.18, "type": "quantitative", "title": null}, "y": {"datum": 0, "type": "quantitative", "title": null}, "text": {"value": "0"}}},
                  {"transform": [{"aggregate": [{"op": "count", "as": "n"}], "groupby": ["region"]}, {"filter": "indexof(['CEE','HAP','OCE'], datum.region) >= 0"}], "mark": {"type": "text", "align": "right", "baseline": "middle", "fontSize": 6.3, "color": "#4D4D4D"}, "encoding": {"x": {"datum": 17.18, "type": "quantitative", "title": null}, "y": {"datum": 20, "type": "quantitative", "title": null}, "text": {"value": "20"}}},
                  {"transform": [{"aggregate": [{"op": "count", "as": "n"}], "groupby": ["region"]}, {"filter": "indexof(['CEE','HAP','OCE'], datum.region) >= 0"}], "mark": {"type": "text", "align": "right", "baseline": "middle", "fontSize": 6.3, "color": "#4D4D4D"}, "encoding": {"x": {"datum": 17.18, "type": "quantitative", "title": null}, "y": {"datum": 40, "type": "quantitative", "title": null}, "text": {"value": "40"}}},
                  {"transform": [{"aggregate": [{"op": "count", "as": "n"}], "groupby": ["region"]}, {"filter": "indexof(['CEE','HAP','OCE'], datum.region) >= 0"}], "mark": {"type": "text", "align": "right", "baseline": "middle", "fontSize": 6.3, "color": "#4D4D4D"}, "encoding": {"x": {"datum": 17.18, "type": "quantitative", "title": null}, "y": {"datum": 60, "type": "quantitative", "title": null}, "text": {"value": "60"}}}
                ]
              }
            }
          ]
        }
      ]
    },
    {
      "title": {"text": "Men", "fontSize": 14, "offset": 3},
      "spacing": 8,
      "hconcat": [
        {
          "title": {"text": "Prevalence of underweight (%)", "fontSize": 10, "offset": 3},
          "vconcat": [
            {
              "title": {"text": "Age group (years)", "orient": "bottom", "fontSize": 8.5, "offset": 4},
              "transform": [{"filter": "datum.sex == 'M' && datum.measure == 'uw'"}],
              "facet": {"field": "region", "type": "nominal", "sort": ["CEE","CAM","ESA","HAP","HIW","LAC","OCE","SAS","SSA"], "title": null, "header": {"title": null, "labels": false, "labelExpr": "''", "labelFontSize": 1, "labelPadding": 0}},
              "columns": 3,
              "spacing": 4,
              "bounds": "flush",
              "spec": {
                "width": 60,
                "height": 111,
                "layer": [
                  {"transform": [{"filter": "false"}], "mark": {"type": "line", "strokeWidth": 1.1}, "encoding": {"x": {"field": "age", "type": "quantitative", "title": null}, "y": {"field": "value", "type": "quantitative", "title": null}, "color": {"field": "year", "type": "nominal", "scale": {"domain": ["1985", "2016"], "range": ["black", "black"]}, "legend": {"orient": "bottom", "direction": "horizontal", "title": null, "symbolType": "stroke", "symbolSize": 130, "symbolStrokeWidth": 1.3, "labelFontSize": 7, "columnPadding": 6, "offset": 8}}, "strokeDash": {"field": "year", "type": "nominal", "scale": {"domain": ["1985", "2016"], "range": [[1, 0], [2.5, 1.5]]}, "legend": {"orient": "bottom", "direction": "horizontal", "title": null, "symbolType": "stroke", "symbolSize": 130, "symbolStrokeWidth": 1.3, "labelFontSize": 7, "columnPadding": 6, "offset": 8}}}},
                  {"transform": [{"calculate": "min(datum['1985'], datum['2016'])", "as": "lo"}], "mark": {"type": "area", "opacity": 1}, "encoding": {"x": {"field": "age", "type": "quantitative", "title": null, "scale": {"domain": [17.5, 72.5], "nice": false, "zero": false}, "axis": {"values": [20,25,30,35,40,45,50,55,60,65,70], "labels": false, "gridWidth": {"condition": {"test": "datum.value % 10 != 0", "value": 0.35}, "value": 0.7}, "tickOpacity": {"condition": {"test": "datum.value % 10 != 0", "value": 0}, "value": 1}}}, "y": {"field": "1985", "type": "quantitative", "title": null, "scale": {"domain": [-3, 83.2], "nice": false, "zero": false}, "axis": {"values": [0,10,20,30,40,50,60], "labels": false, "gridWidth": {"condition": {"test": "datum.value % 20 != 0", "value": 0.35}, "value": 0.7}, "tickOpacity": {"condition": {"test": "datum.value % 20 != 0", "value": 0}, "value": 1}}}, "y2": {"field": "lo"}, "fill": {"datum": "decrease", "type": "nominal", "scale": {"domain": ["decrease", "increase"], "range": ["#90E990", "#F8B195"]}, "legend": {"orient": "bottom", "direction": "horizontal", "title": null, "symbolType": "square", "symbolSize": 170, "symbolStrokeWidth": 0, "labelFontSize": 7, "columnPadding": 6, "offset": 8}}}},
                  {"transform": [{"calculate": "min(datum['1985'], datum['2016'])", "as": "lo"}], "mark": {"type": "area", "opacity": 1}, "encoding": {"x": {"field": "age", "type": "quantitative", "title": null}, "y": {"field": "2016", "type": "quantitative", "title": null}, "y2": {"field": "lo"}, "fill": {"datum": "increase", "type": "nominal"}}},
                  {"transform": [{"fold": ["1985", "2016"], "as": ["year", "value"]}], "mark": {"type": "line", "strokeWidth": 1.1}, "encoding": {"x": {"field": "age", "type": "quantitative", "title": null}, "y": {"field": "value", "type": "quantitative", "title": null}, "color": {"field": "year", "type": "nominal"}, "strokeDash": {"field": "year", "type": "nominal"}}},
                  {"transform": [{"aggregate": [{"op": "count", "as": "n"}], "groupby": ["region"]}], "mark": {"type": "rect", "fill": "#E6E6E6", "stroke": "#8C8C8C", "strokeWidth": 0.8}, "encoding": {"y": {"datum": 63, "type": "quantitative", "title": null}, "y2": {"datum": 83.2}}},
                  {"transform": [{"aggregate": [{"op": "count", "as": "n"}], "groupby": ["region", "label"]}], "mark": {"type": "text", "fontSize": 6.3, "color": "#333333", "lineBreak": "\n", "lineHeight": 7.5, "align": "center", "baseline": "middle"}, "encoding": {"x": {"datum": 45, "type": "quantitative", "title": null}, "y": {"datum": 73.1, "type": "quantitative", "title": null}, "text": {"field": "label", "type": "nominal"}}},
                  {"transform": [{"filter": "indexof(['OCE','SAS','SSA'], datum.region) >= 0"}], "mark": {"type": "text", "angle": 315, "align": "right", "baseline": "top", "fontSize": 6.3, "color": "#4D4D4D"}, "encoding": {"x": {"field": "age", "type": "quantitative", "title": null}, "y": {"datum": -5.7, "type": "quantitative", "title": null}, "text": {"field": "agelab", "type": "nominal"}}},
                  {"transform": [{"aggregate": [{"op": "count", "as": "n"}], "groupby": ["region"]}, {"filter": "indexof(['CEE','HAP','OCE'], datum.region) >= 0"}], "mark": {"type": "text", "align": "right", "baseline": "middle", "fontSize": 6.3, "color": "#4D4D4D"}, "encoding": {"x": {"datum": 17.18, "type": "quantitative", "title": null}, "y": {"datum": 0, "type": "quantitative", "title": null}, "text": {"value": "0"}}},
                  {"transform": [{"aggregate": [{"op": "count", "as": "n"}], "groupby": ["region"]}, {"filter": "indexof(['CEE','HAP','OCE'], datum.region) >= 0"}], "mark": {"type": "text", "align": "right", "baseline": "middle", "fontSize": 6.3, "color": "#4D4D4D"}, "encoding": {"x": {"datum": 17.18, "type": "quantitative", "title": null}, "y": {"datum": 20, "type": "quantitative", "title": null}, "text": {"value": "20"}}},
                  {"transform": [{"aggregate": [{"op": "count", "as": "n"}], "groupby": ["region"]}, {"filter": "indexof(['CEE','HAP','OCE'], datum.region) >= 0"}], "mark": {"type": "text", "align": "right", "baseline": "middle", "fontSize": 6.3, "color": "#4D4D4D"}, "encoding": {"x": {"datum": 17.18, "type": "quantitative", "title": null}, "y": {"datum": 40, "type": "quantitative", "title": null}, "text": {"value": "40"}}},
                  {"transform": [{"aggregate": [{"op": "count", "as": "n"}], "groupby": ["region"]}, {"filter": "indexof(['CEE','HAP','OCE'], datum.region) >= 0"}], "mark": {"type": "text", "align": "right", "baseline": "middle", "fontSize": 6.3, "color": "#4D4D4D"}, "encoding": {"x": {"datum": 17.18, "type": "quantitative", "title": null}, "y": {"datum": 60, "type": "quantitative", "title": null}, "text": {"value": "60"}}}
                ]
              }
            }
          ]
        },
        {
          "title": {"text": "Prevalence of obesity (%)", "fontSize": 10, "offset": 3},
          "vconcat": [
            {
              "title": {"text": "Age group (years)", "orient": "bottom", "fontSize": 8.5, "offset": 4},
              "transform": [{"filter": "datum.sex == 'M' && datum.measure == 'ob'"}],
              "facet": {"field": "region", "type": "nominal", "sort": ["CEE","CAM","ESA","HAP","HIW","LAC","OCE","SAS","SSA"], "title": null, "header": {"title": null, "labels": false, "labelExpr": "''", "labelFontSize": 1, "labelPadding": 0}},
              "columns": 3,
              "spacing": 4,
              "bounds": "flush",
              "spec": {
                "width": 60,
                "height": 111,
                "layer": [
                  {"transform": [{"filter": "false"}], "mark": {"type": "line", "strokeWidth": 1.1}, "encoding": {"x": {"field": "age", "type": "quantitative", "title": null}, "y": {"field": "value", "type": "quantitative", "title": null}, "color": {"field": "year", "type": "nominal", "scale": {"domain": ["1985", "2016"], "range": ["black", "black"]}, "legend": {"orient": "bottom", "direction": "horizontal", "title": null, "symbolType": "stroke", "symbolSize": 130, "symbolStrokeWidth": 1.3, "labelFontSize": 7, "columnPadding": 6, "offset": 8}}, "strokeDash": {"field": "year", "type": "nominal", "scale": {"domain": ["1985", "2016"], "range": [[1, 0], [2.5, 1.5]]}, "legend": {"orient": "bottom", "direction": "horizontal", "title": null, "symbolType": "stroke", "symbolSize": 130, "symbolStrokeWidth": 1.3, "labelFontSize": 7, "columnPadding": 6, "offset": 8}}}},
                  {"transform": [{"calculate": "min(datum['1985'], datum['2016'])", "as": "lo"}], "mark": {"type": "area", "opacity": 1}, "encoding": {"x": {"field": "age", "type": "quantitative", "title": null, "scale": {"domain": [17.5, 72.5], "nice": false, "zero": false}, "axis": {"values": [20,25,30,35,40,45,50,55,60,65,70], "labels": false, "gridWidth": {"condition": {"test": "datum.value % 10 != 0", "value": 0.35}, "value": 0.7}, "tickOpacity": {"condition": {"test": "datum.value % 10 != 0", "value": 0}, "value": 1}}}, "y": {"field": "1985", "type": "quantitative", "title": null, "scale": {"domain": [-3, 83.2], "nice": false, "zero": false}, "axis": {"values": [0,10,20,30,40,50,60], "labels": false, "gridWidth": {"condition": {"test": "datum.value % 20 != 0", "value": 0.35}, "value": 0.7}, "tickOpacity": {"condition": {"test": "datum.value % 20 != 0", "value": 0}, "value": 1}}}, "y2": {"field": "lo"}, "fill": {"datum": "decrease", "type": "nominal", "scale": {"domain": ["decrease", "increase"], "range": ["#90E990", "#F8B195"]}, "legend": {"orient": "bottom", "direction": "horizontal", "title": null, "symbolType": "square", "symbolSize": 170, "symbolStrokeWidth": 0, "labelFontSize": 7, "columnPadding": 6, "offset": 8}}}},
                  {"transform": [{"calculate": "min(datum['1985'], datum['2016'])", "as": "lo"}], "mark": {"type": "area", "opacity": 1}, "encoding": {"x": {"field": "age", "type": "quantitative", "title": null}, "y": {"field": "2016", "type": "quantitative", "title": null}, "y2": {"field": "lo"}, "fill": {"datum": "increase", "type": "nominal"}}},
                  {"transform": [{"fold": ["1985", "2016"], "as": ["year", "value"]}], "mark": {"type": "line", "strokeWidth": 1.1}, "encoding": {"x": {"field": "age", "type": "quantitative", "title": null}, "y": {"field": "value", "type": "quantitative", "title": null}, "color": {"field": "year", "type": "nominal"}, "strokeDash": {"field": "year", "type": "nominal"}}},
                  {"transform": [{"aggregate": [{"op": "count", "as": "n"}], "groupby": ["region"]}], "mark": {"type": "rect", "fill": "#E6E6E6", "stroke": "#8C8C8C", "strokeWidth": 0.8}, "encoding": {"y": {"datum": 63, "type": "quantitative", "title": null}, "y2": {"datum": 83.2}}},
                  {"transform": [{"aggregate": [{"op": "count", "as": "n"}], "groupby": ["region", "label"]}], "mark": {"type": "text", "fontSize": 6.3, "color": "#333333", "lineBreak": "\n", "lineHeight": 7.5, "align": "center", "baseline": "middle"}, "encoding": {"x": {"datum": 45, "type": "quantitative", "title": null}, "y": {"datum": 73.1, "type": "quantitative", "title": null}, "text": {"field": "label", "type": "nominal"}}},
                  {"transform": [{"filter": "indexof(['OCE','SAS','SSA'], datum.region) >= 0"}], "mark": {"type": "text", "angle": 315, "align": "right", "baseline": "top", "fontSize": 6.3, "color": "#4D4D4D"}, "encoding": {"x": {"field": "age", "type": "quantitative", "title": null}, "y": {"datum": -5.7, "type": "quantitative", "title": null}, "text": {"field": "agelab", "type": "nominal"}}},
                  {"transform": [{"aggregate": [{"op": "count", "as": "n"}], "groupby": ["region"]}, {"filter": "indexof(['CEE','HAP','OCE'], datum.region) >= 0"}], "mark": {"type": "text", "align": "right", "baseline": "middle", "fontSize": 6.3, "color": "#4D4D4D"}, "encoding": {"x": {"datum": 17.18, "type": "quantitative", "title": null}, "y": {"datum": 0, "type": "quantitative", "title": null}, "text": {"value": "0"}}},
                  {"transform": [{"aggregate": [{"op": "count", "as": "n"}], "groupby": ["region"]}, {"filter": "indexof(['CEE','HAP','OCE'], datum.region) >= 0"}], "mark": {"type": "text", "align": "right", "baseline": "middle", "fontSize": 6.3, "color": "#4D4D4D"}, "encoding": {"x": {"datum": 17.18, "type": "quantitative", "title": null}, "y": {"datum": 20, "type": "quantitative", "title": null}, "text": {"value": "20"}}},
                  {"transform": [{"aggregate": [{"op": "count", "as": "n"}], "groupby": ["region"]}, {"filter": "indexof(['CEE','HAP','OCE'], datum.region) >= 0"}], "mark": {"type": "text", "align": "right", "baseline": "middle", "fontSize": 6.3, "color": "#4D4D4D"}, "encoding": {"x": {"datum": 17.18, "type": "quantitative", "title": null}, "y": {"datum": 40, "type": "quantitative", "title": null}, "text": {"value": "40"}}},
                  {"transform": [{"aggregate": [{"op": "count", "as": "n"}], "groupby": ["region"]}, {"filter": "indexof(['CEE','HAP','OCE'], datum.region) >= 0"}], "mark": {"type": "text", "align": "right", "baseline": "middle", "fontSize": 6.3, "color": "#4D4D4D"}, "encoding": {"x": {"datum": 17.18, "type": "quantitative", "title": null}, "y": {"datum": 60, "type": "quantitative", "title": null}, "text": {"value": "60"}}}
                ]
              }
            }
          ]
        },
        {
          "title": {"text": "Prevalence of severe obesity (%)", "fontSize": 10, "offset": 3},
          "vconcat": [
            {
              "title": {"text": "Age group (years)", "orient": "bottom", "fontSize": 8.5, "offset": 4},
              "transform": [{"filter": "datum.sex == 'M' && datum.measure == 'so'"}],
              "facet": {"field": "region", "type": "nominal", "sort": ["CEE","CAM","ESA","HAP","HIW","LAC","OCE","SAS","SSA"], "title": null, "header": {"title": null, "labels": false, "labelExpr": "''", "labelFontSize": 1, "labelPadding": 0}},
              "columns": 3,
              "spacing": 4,
              "bounds": "flush",
              "spec": {
                "width": 60,
                "height": 111,
                "layer": [
                  {"transform": [{"filter": "false"}], "mark": {"type": "line", "strokeWidth": 1.1}, "encoding": {"x": {"field": "age", "type": "quantitative", "title": null}, "y": {"field": "value", "type": "quantitative", "title": null}, "color": {"field": "year", "type": "nominal", "scale": {"domain": ["1985", "2016"], "range": ["black", "black"]}, "legend": {"orient": "bottom", "direction": "horizontal", "title": null, "symbolType": "stroke", "symbolSize": 130, "symbolStrokeWidth": 1.3, "labelFontSize": 7, "columnPadding": 6, "offset": 8}}, "strokeDash": {"field": "year", "type": "nominal", "scale": {"domain": ["1985", "2016"], "range": [[1, 0], [2.5, 1.5]]}, "legend": {"orient": "bottom", "direction": "horizontal", "title": null, "symbolType": "stroke", "symbolSize": 130, "symbolStrokeWidth": 1.3, "labelFontSize": 7, "columnPadding": 6, "offset": 8}}}},
                  {"transform": [{"calculate": "min(datum['1985'], datum['2016'])", "as": "lo"}], "mark": {"type": "area", "opacity": 1}, "encoding": {"x": {"field": "age", "type": "quantitative", "title": null, "scale": {"domain": [17.5, 72.5], "nice": false, "zero": false}, "axis": {"values": [20,25,30,35,40,45,50,55,60,65,70], "labels": false, "gridWidth": {"condition": {"test": "datum.value % 10 != 0", "value": 0.35}, "value": 0.7}, "tickOpacity": {"condition": {"test": "datum.value % 10 != 0", "value": 0}, "value": 1}}}, "y": {"field": "1985", "type": "quantitative", "title": null, "scale": {"domain": [-3, 83.2], "nice": false, "zero": false}, "axis": {"values": [0,10,20,30,40,50,60], "labels": false, "gridWidth": {"condition": {"test": "datum.value % 20 != 0", "value": 0.35}, "value": 0.7}, "tickOpacity": {"condition": {"test": "datum.value % 20 != 0", "value": 0}, "value": 1}}}, "y2": {"field": "lo"}, "fill": {"datum": "decrease", "type": "nominal", "scale": {"domain": ["decrease", "increase"], "range": ["#90E990", "#F8B195"]}, "legend": {"orient": "bottom", "direction": "horizontal", "title": null, "symbolType": "square", "symbolSize": 170, "symbolStrokeWidth": 0, "labelFontSize": 7, "columnPadding": 6, "offset": 8}}}},
                  {"transform": [{"calculate": "min(datum['1985'], datum['2016'])", "as": "lo"}], "mark": {"type": "area", "opacity": 1}, "encoding": {"x": {"field": "age", "type": "quantitative", "title": null}, "y": {"field": "2016", "type": "quantitative", "title": null}, "y2": {"field": "lo"}, "fill": {"datum": "increase", "type": "nominal"}}},
                  {"transform": [{"fold": ["1985", "2016"], "as": ["year", "value"]}], "mark": {"type": "line", "strokeWidth": 1.1}, "encoding": {"x": {"field": "age", "type": "quantitative", "title": null}, "y": {"field": "value", "type": "quantitative", "title": null}, "color": {"field": "year", "type": "nominal"}, "strokeDash": {"field": "year", "type": "nominal"}}},
                  {"transform": [{"aggregate": [{"op": "count", "as": "n"}], "groupby": ["region"]}], "mark": {"type": "rect", "fill": "#E6E6E6", "stroke": "#8C8C8C", "strokeWidth": 0.8}, "encoding": {"y": {"datum": 63, "type": "quantitative", "title": null}, "y2": {"datum": 83.2}}},
                  {"transform": [{"aggregate": [{"op": "count", "as": "n"}], "groupby": ["region", "label"]}], "mark": {"type": "text", "fontSize": 6.3, "color": "#333333", "lineBreak": "\n", "lineHeight": 7.5, "align": "center", "baseline": "middle"}, "encoding": {"x": {"datum": 45, "type": "quantitative", "title": null}, "y": {"datum": 73.1, "type": "quantitative", "title": null}, "text": {"field": "label", "type": "nominal"}}},
                  {"transform": [{"filter": "indexof(['OCE','SAS','SSA'], datum.region) >= 0"}], "mark": {"type": "text", "angle": 315, "align": "right", "baseline": "top", "fontSize": 6.3, "color": "#4D4D4D"}, "encoding": {"x": {"field": "age", "type": "quantitative", "title": null}, "y": {"datum": -5.7, "type": "quantitative", "title": null}, "text": {"field": "agelab", "type": "nominal"}}},
                  {"transform": [{"aggregate": [{"op": "count", "as": "n"}], "groupby": ["region"]}, {"filter": "indexof(['CEE','HAP','OCE'], datum.region) >= 0"}], "mark": {"type": "text", "align": "right", "baseline": "middle", "fontSize": 6.3, "color": "#4D4D4D"}, "encoding": {"x": {"datum": 17.18, "type": "quantitative", "title": null}, "y": {"datum": 0, "type": "quantitative", "title": null}, "text": {"value": "0"}}},
                  {"transform": [{"aggregate": [{"op": "count", "as": "n"}], "groupby": ["region"]}, {"filter": "indexof(['CEE','HAP','OCE'], datum.region) >= 0"}], "mark": {"type": "text", "align": "right", "baseline": "middle", "fontSize": 6.3, "color": "#4D4D4D"}, "encoding": {"x": {"datum": 17.18, "type": "quantitative", "title": null}, "y": {"datum": 20, "type": "quantitative", "title": null}, "text": {"value": "20"}}},
                  {"transform": [{"aggregate": [{"op": "count", "as": "n"}], "groupby": ["region"]}, {"filter": "indexof(['CEE','HAP','OCE'], datum.region) >= 0"}], "mark": {"type": "text", "align": "right", "baseline": "middle", "fontSize": 6.3, "color": "#4D4D4D"}, "encoding": {"x": {"datum": 17.18, "type": "quantitative", "title": null}, "y": {"datum": 40, "type": "quantitative", "title": null}, "text": {"value": "40"}}},
                  {"transform": [{"aggregate": [{"op": "count", "as": "n"}], "groupby": ["region"]}, {"filter": "indexof(['CEE','HAP','OCE'], datum.region) >= 0"}], "mark": {"type": "text", "align": "right", "baseline": "middle", "fontSize": 6.3, "color": "#4D4D4D"}, "encoding": {"x": {"datum": 17.18, "type": "quantitative", "title": null}, "y": {"datum": 60, "type": "quantitative", "title": null}, "text": {"value": "60"}}}
                ]
              }
            }
          ]
        }
      ]
    }
  ],
  "config": {
    "font": "Liberation Sans",
    "view": {"stroke": "#8C8C8C", "strokeWidth": 0.8},
    "title": {"anchor": "middle", "fontWeight": "normal", "color": "black"},
    "header": {"labels": false, "title": null},
    "axis": {"domain": false, "tickSize": 2.5, "tickColor": "#333333", "tickWidth": 0.7, "gridColor": "#E3E3E3", "labelOverlap": false, "labelFlush": false},
    "legend": {"labelColor": "#333333", "layout": {"bottom": {"anchor": "middle", "direction": "horizontal", "margin": 20}}}
  }
}
